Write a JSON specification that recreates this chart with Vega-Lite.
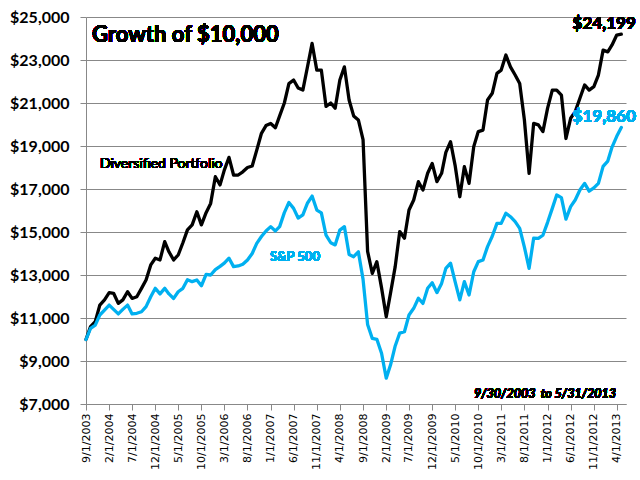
{
  "$schema": "https://vega.github.io/schema/vega-lite/v6.json",
  "width": 540,
  "height": 387,
  "autosize": "none",
  "padding": {"left": 86, "top": 17, "right": 14, "bottom": 76},
  "background": "white",
  "config": {"view": {"stroke": null}},
  "data": {"values": [
    {"d":"2003-09-01","dp":10000,"sp":10000},
    {"d":"2003-10-01","dp":10600,"sp":10520},
    {"d":"2003-11-01","dp":10830,"sp":10670},
    {"d":"2003-12-01","dp":11600,"sp":11140},
    {"d":"2004-01-01","dp":11840,"sp":11370},
    {"d":"2004-02-01","dp":12180,"sp":11600},
    {"d":"2004-03-01","dp":12150,"sp":11400},
    {"d":"2004-04-01","dp":11680,"sp":11190},
    {"d":"2004-05-01","dp":11840,"sp":11400},
    {"d":"2004-06-01","dp":12220,"sp":11600},
    {"d":"2004-07-01","dp":11910,"sp":11190},
    {"d":"2004-08-01","dp":11990,"sp":11220},
    {"d":"2004-09-01","dp":12380,"sp":11290},
    {"d":"2004-10-01","dp":12770,"sp":11530},
    {"d":"2004-11-01","dp":13470,"sp":11990},
    {"d":"2004-12-01","dp":13780,"sp":12380},
    {"d":"2005-01-01","dp":13700,"sp":12120},
    {"d":"2005-02-01","dp":14550,"sp":12380},
    {"d":"2005-03-01","dp":14080,"sp":12120},
    {"d":"2005-04-01","dp":13700,"sp":11910},
    {"d":"2005-05-01","dp":13930,"sp":12220},
    {"d":"2005-06-01","dp":14500,"sp":12380},
    {"d":"2005-07-01","dp":15100,"sp":12780},
    {"d":"2005-08-01","dp":15330,"sp":12690},
    {"d":"2005-09-01","dp":15940,"sp":12770},
    {"d":"2005-10-01","dp":15330,"sp":12500},
    {"d":"2005-11-01","dp":15900,"sp":13030},
    {"d":"2005-12-01","dp":16330,"sp":13000},
    {"d":"2006-01-01","dp":17570,"sp":13250},
    {"d":"2006-02-01","dp":17190,"sp":13400},
    {"d":"2006-03-01","dp":17880,"sp":13550},
    {"d":"2006-04-01","dp":18470,"sp":13780},
    {"d":"2006-05-01","dp":17650,"sp":13390},
    {"d":"2006-06-01","dp":17650,"sp":13420},
    {"d":"2006-07-01","dp":17800,"sp":13500},
    {"d":"2006-08-01","dp":18000,"sp":13700},
    {"d":"2006-09-01","dp":18070,"sp":14000},
    {"d":"2006-10-01","dp":18810,"sp":14470},
    {"d":"2006-11-01","dp":19590,"sp":14790},
    {"d":"2006-12-01","dp":19950,"sp":15050},
    {"d":"2007-01-01","dp":20050,"sp":15250},
    {"d":"2007-02-01","dp":19850,"sp":15050},
    {"d":"2007-03-01","dp":20400,"sp":15250},
    {"d":"2007-04-01","dp":21000,"sp":15900},
    {"d":"2007-05-01","dp":21900,"sp":16370},
    {"d":"2007-06-01","dp":22070,"sp":16100},
    {"d":"2007-07-01","dp":21700,"sp":15650},
    {"d":"2007-08-01","dp":21600,"sp":15800},
    {"d":"2007-09-01","dp":22700,"sp":16350},
    {"d":"2007-10-01","dp":23770,"sp":16670},
    {"d":"2007-11-01","dp":22530,"sp":16020},
    {"d":"2007-12-01","dp":22530,"sp":15890},
    {"d":"2008-01-01","dp":20840,"sp":14850},
    {"d":"2008-02-01","dp":21000,"sp":14500},
    {"d":"2008-03-01","dp":20760,"sp":14400},
    {"d":"2008-04-01","dp":22070,"sp":15090},
    {"d":"2008-05-01","dp":22680,"sp":15250},
    {"d":"2008-06-01","dp":21140,"sp":13950},
    {"d":"2008-07-01","dp":20400,"sp":13850},
    {"d":"2008-08-01","dp":20210,"sp":14080},
    {"d":"2008-09-01","dp":19300,"sp":12800},
    {"d":"2008-10-01","dp":14100,"sp":10700},
    {"d":"2008-11-01","dp":13080,"sp":10050},
    {"d":"2008-12-01","dp":13620,"sp":10010},
    {"d":"2009-01-01","dp":12400,"sp":9360},
    {"d":"2009-02-01","dp":11060,"sp":8200},
    {"d":"2009-03-01","dp":12150,"sp":8810},
    {"d":"2009-04-01","dp":13390,"sp":9700},
    {"d":"2009-05-01","dp":15020,"sp":10300},
    {"d":"2009-06-01","dp":14710,"sp":10360},
    {"d":"2009-07-01","dp":16020,"sp":11140},
    {"d":"2009-08-01","dp":16490,"sp":11450},
    {"d":"2009-09-01","dp":17340,"sp":11920},
    {"d":"2009-10-01","dp":16950,"sp":11680},
    {"d":"2009-11-01","dp":17730,"sp":12380},
    {"d":"2009-12-01","dp":18190,"sp":12640},
    {"d":"2010-01-01","dp":17340,"sp":12180},
    {"d":"2010-02-01","dp":17730,"sp":12610},
    {"d":"2010-03-01","dp":18700,"sp":13310},
    {"d":"2010-04-01","dp":19200,"sp":13550},
    {"d":"2010-05-01","dp":18100,"sp":12690},
    {"d":"2010-06-01","dp":16640,"sp":11840},
    {"d":"2010-07-01","dp":18040,"sp":12690},
    {"d":"2010-08-01","dp":17260,"sp":12070},
    {"d":"2010-09-01","dp":18970,"sp":13150},
    {"d":"2010-10-01","dp":19670,"sp":13620},
    {"d":"2010-11-01","dp":19740,"sp":13700},
    {"d":"2010-12-01","dp":21140,"sp":14320},
    {"d":"2011-01-01","dp":21450,"sp":14800},
    {"d":"2011-02-01","dp":22380,"sp":15400},
    {"d":"2011-03-01","dp":22530,"sp":15400},
    {"d":"2011-04-01","dp":23230,"sp":15870},
    {"d":"2011-05-01","dp":22680,"sp":15710},
    {"d":"2011-06-01","dp":22300,"sp":15480},
    {"d":"2011-07-01","dp":21910,"sp":15170},
    {"d":"2011-08-01","dp":20210,"sp":14300},
    {"d":"2011-09-01","dp":17730,"sp":13310},
    {"d":"2011-10-01","dp":20050,"sp":14710},
    {"d":"2011-11-01","dp":19980,"sp":14700},
    {"d":"2011-12-01","dp":19670,"sp":14850},
    {"d":"2012-01-01","dp":20760,"sp":15450},
    {"d":"2012-02-01","dp":21600,"sp":16100},
    {"d":"2012-03-01","dp":21600,"sp":16720},
    {"d":"2012-04-01","dp":21370,"sp":16600},
    {"d":"2012-05-01","dp":19350,"sp":15600},
    {"d":"2012-06-01","dp":20290,"sp":16180},
    {"d":"2012-07-01","dp":20600,"sp":16490},
    {"d":"2012-08-01","dp":21220,"sp":16950},
    {"d":"2012-09-01","dp":21840,"sp":17260},
    {"d":"2012-10-01","dp":21600,"sp":16900},
    {"d":"2012-11-01","dp":21760,"sp":17050},
    {"d":"2012-12-01","dp":22300,"sp":17260},
    {"d":"2013-01-01","dp":23460,"sp":18050},
    {"d":"2013-02-01","dp":23380,"sp":18300},
    {"d":"2013-03-01","dp":23700,"sp":18950},
    {"d":"2013-04-01","dp":24160,"sp":19450},
    {"d":"2013-05-01","dp":24199,"sp":19860}
  ]},
  "encoding": {
    "x": {
      "field": "d", "type": "temporal",
      "scale": {"type": "utc", "domain": [{"year":2003,"month":9,"date":1,"utc":true},{"year":2013,"month":6,"date":1,"utc":true}]},
      "axis": {
        "title": null,
        "values": [
          {"year":2003,"month":9,"date":1,"utc":true},
          {"year":2004,"month":2,"date":1,"utc":true},
          {"year":2004,"month":7,"date":1,"utc":true},
          {"year":2004,"month":12,"date":1,"utc":true},
          {"year":2005,"month":5,"date":1,"utc":true},
          {"year":2005,"month":10,"date":1,"utc":true},
          {"year":2006,"month":3,"date":1,"utc":true},
          {"year":2006,"month":8,"date":1,"utc":true},
          {"year":2007,"month":1,"date":1,"utc":true},
          {"year":2007,"month":6,"date":1,"utc":true},
          {"year":2007,"month":11,"date":1,"utc":true},
          {"year":2008,"month":4,"date":1,"utc":true},
          {"year":2008,"month":9,"date":1,"utc":true},
          {"year":2009,"month":2,"date":1,"utc":true},
          {"year":2009,"month":7,"date":1,"utc":true},
          {"year":2009,"month":12,"date":1,"utc":true},
          {"year":2010,"month":5,"date":1,"utc":true},
          {"year":2010,"month":10,"date":1,"utc":true},
          {"year":2011,"month":3,"date":1,"utc":true},
          {"year":2011,"month":8,"date":1,"utc":true},
          {"year":2012,"month":1,"date":1,"utc":true},
          {"year":2012,"month":6,"date":1,"utc":true},
          {"year":2012,"month":11,"date":1,"utc":true},
          {"year":2013,"month":4,"date":1,"utc":true}
        ],
        "labelExpr": "utcFormat(datum.value, '%-m/%-d/%Y')",
        "labelAngle": 270,
        "labelFont": "DejaVu Sans",
        "labelFontSize": 11,
        "labelColor": "#000000",
        "labelPadding": 3,
        "labelOverlap": false,
        "labelFlush": false,
        "grid": false,
        "tickSize": 6,
        "tickColor": "#888888",
        "domainColor": "#888888"
      }
    }
  },
  "layer": [
    {
      "mark": {"type": "line", "color": "#000000", "strokeWidth": 3.3, "strokeJoin": "round", "strokeCap": "round"},
      "encoding": {
        "y": {
          "field": "dp", "type": "quantitative",
          "scale": {"domain": [7000, 25000], "nice": false, "zero": false},
          "axis": {
            "title": null,
            "values": [7000, 9000, 11000, 13000, 15000, 17000, 19000, 21000, 23000, 25000],
            "format": "$,.0f",
            "labelFont": "Lato",
            "labelFontWeight": "bold",
            "labelFontSize": 16,
            "labelColor": "#000000",
            "labelPadding": 11,
            "grid": true,
            "gridColor": "#888888",
            "tickSize": 6,
            "tickColor": "#888888",
            "domainColor": "#888888"
          }
        }
      }
    },
    {
      "mark": {"type": "line", "color": "#00B0F0", "strokeWidth": 3.3, "strokeJoin": "round", "strokeCap": "round"},
      "encoding": {"y": {"field": "sp", "type": "quantitative"}}
    },
    {
      "mark": {"type": "text", "text": "Growth of $10,000", "font": "Lato", "fontWeight": "bold", "fontSize": 22, "align": "left", "baseline": "middle", "color": "#000000"},
      "encoding": {
        "x": {"datum": {"year":2003,"month":10,"date":11,"utc":true}, "type": "temporal"},
        "y": {"datum": 24140, "type": "quantitative"}
      }
    },
    {
      "mark": {"type": "text", "text": "Diversified Portfolio", "font": "Lato", "fontSize": 14, "align": "left", "baseline": "middle", "color": "#000000"},
      "encoding": {
        "x": {"datum": {"year":2003,"month":12,"date":2,"utc":true}, "type": "temporal"},
        "y": {"datum": 18163, "type": "quantitative"}
      }
    },
    {
      "mark": {"type": "text", "text": "S&P 500", "font": "Lato", "fontWeight": "bold", "fontSize": 13, "align": "left", "baseline": "middle", "color": "#00B0F0"},
      "encoding": {
        "x": {"datum": {"year":2006,"month":12,"date":27,"utc":true}, "type": "temporal"},
        "y": {"datum": 13851, "type": "quantitative"}
      }
    },
    {
      "mark": {"type": "text", "text": "$24,199", "font": "Lato", "fontWeight": "bold", "fontSize": 17, "align": "left", "baseline": "middle", "color": "#000000"},
      "encoding": {
        "x": {"datum": {"year":2012,"month":6,"date":14,"utc":true}, "type": "temporal"},
        "y": {"datum": 24660, "type": "quantitative"}
      }
    },
    {
      "mark": {"type": "text", "text": "$19,860", "font": "Lato", "fontWeight": "bold", "fontSize": 17, "align": "left", "baseline": "middle", "color": "#00B0F0"},
      "encoding": {
        "x": {"datum": {"year":2012,"month":6,"date":14,"utc":true}, "type": "temporal"},
        "y": {"datum": 20363, "type": "quantitative"}
      }
    },
    {
      "mark": {"type": "text", "text": "9/30/2003\u00a0 to 5/31/2013", "font": "Lato", "fontWeight": "bold", "fontStyle": "italic", "fontSize": 12.5, "align": "left", "baseline": "middle", "color": "#000000"},
      "encoding": {
        "x": {"datum": {"year":2010,"month":9,"date":2,"utc":true}, "type": "temporal"},
        "y": {"datum": 7451, "type": "quantitative"}
      }
    }
  ]
}
